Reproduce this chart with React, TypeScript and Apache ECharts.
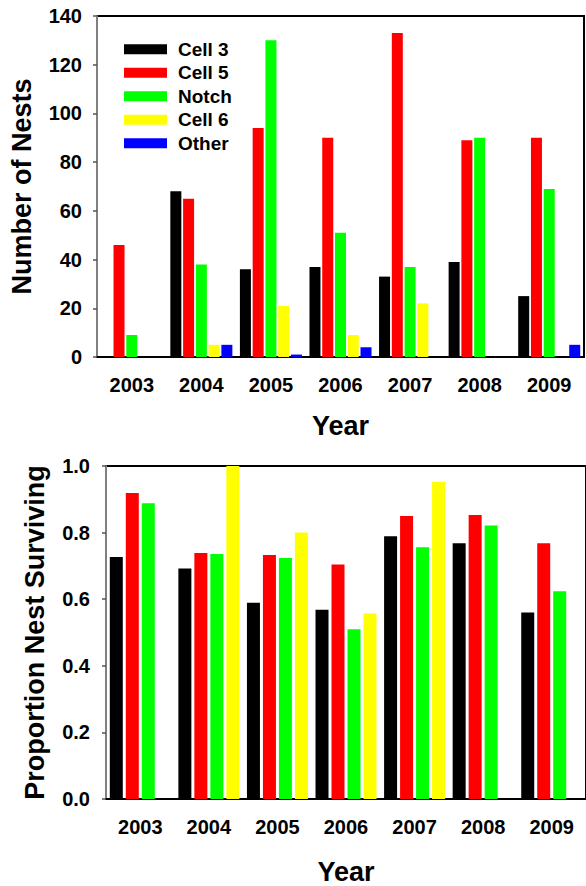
import React, { useEffect, useRef } from "react";
import * as echarts from "echarts";

const years = ["2003", "2004", "2005", "2006", "2007", "2008", "2009"];

// Top chart: number of nests
const nestsCell3 = [0, 68, 36, 37, 33, 39, 25];
const nestsCell5 = [46, 65, 94, 90, 133, 89, 90];
const nestsNotch = [9, 38, 130, 51, 37, 90, 69];
const nestsCell6 = [0, 5, 21, 9, 22, 0, 0];
const nestsOther = [0, 5, 1, 4, 0, 0, 5];

// Bottom chart: proportion nest surviving
const survCell3 = [0.727, 0.692, 0.589, 0.568, 0.789, 0.768, 0.56];
const survCell5 = [0.919, 0.739, 0.733, 0.704, 0.85, 0.853, 0.768];
const survNotch = [0.888, 0.736, 0.724, 0.51, 0.756, 0.821, 0.624];
const survCell6 = [null, 1.0, 0.8, 0.557, 0.953, null, null];

const seriesNames = ["Cell 3", "Cell 5", "Notch", "Cell 6", "Other"];
const seriesColors = ["#000000", "#ff0000", "#00ff00", "#ffff00", "#0000ff"];

const FONT = "'Liberation Sans', Arial, Helvetica, sans-serif";

export default function App() {
  const ref = useRef<HTMLDivElement>(null);
  useEffect(() => {
    if (!ref.current) return;
    const chart = echarts.init(ref.current, undefined, { renderer: "svg" });
    const tickLabel = { fontFamily: FONT, fontWeight: "bold", fontSize: 20, color: "#000" };
    const nameStyle = { fontFamily: FONT, fontWeight: "bold", fontSize: 27, color: "#000" };
    const xAxisBase = (gridIndex: number, nameGap: number) => ({
      type: "category",
      gridIndex,
      data: years,
      name: "Year",
      nameLocation: "middle",
      nameGap,
      nameTextStyle: nameStyle,
      axisLine: { lineStyle: { color: "#000", width: 2 } },
      axisTick: { alignWithLabel: true, length: 5, lineStyle: { color: "#000", width: 2 } },
      axisLabel: { ...tickLabel, margin: 18 },
      splitLine: { show: false },
    });
    const topData = [nestsCell3, nestsCell5, nestsNotch, nestsCell6, nestsOther];
    const botData = [survCell3, survCell5, survNotch, survCell6];
    const series: any[] = [];
    topData.forEach((d, i) => {
      series.push({
        type: "bar",
        name: seriesNames[i],
        xAxisIndex: 0,
        yAxisIndex: 0,
        data: d,
        barWidth: 11,
        barGap: "16%",
        itemStyle: { color: seriesColors[i] },
      });
    });
    botData.forEach((d, i) => {
      series.push({
        type: "bar",
        name: seriesNames[i] + " ",
        xAxisIndex: 1,
        yAxisIndex: 1,
        data: d,
        barWidth: 13,
        barGap: "23%",
        itemStyle: { color: seriesColors[i] },
      });
    });
    chart.setOption({
      animation: false,
      backgroundColor: "#fff",
      grid: [
        { left: 97, top: 16, width: 487, height: 341, show: true, borderColor: "#000", borderWidth: 2 },
        { left: 106, top: 466, width: 485, height: 341, show: true, borderColor: "#000", borderWidth: 2 },
      ],
      legend: {
        data: seriesNames,
        orient: "vertical",
        left: 119,
        top: 34,
        icon: "rect",
        itemWidth: 43,
        itemHeight: 10,
        itemGap: 3,
        textStyle: { fontFamily: FONT, fontWeight: "bold", fontSize: 19, color: "#000", lineHeight: 20.5, padding: [0, 0, 0, 6] },
        selectedMode: false,
      },
      xAxis: [xAxisBase(0, 55), xAxisBase(1, 59)],
      yAxis: [
        {
          type: "value",
          gridIndex: 0,
          min: 0,
          max: 140,
          interval: 20,
          name: "Number of Nests",
          nameLocation: "middle",
          nameGap: 62,
          nameTextStyle: nameStyle,
          axisLine: { show: true, lineStyle: { color: "#808080", width: 2 } },
          axisTick: { show: true, length: 4, lineStyle: { color: "#555", width: 1.5 } },
          axisLabel: { ...tickLabel, margin: 15 },
          splitLine: { show: false },
        },
        {
          type: "value",
          gridIndex: 1,
          min: 0,
          max: 1,
          interval: 0.2,
          name: "Proportion Nest Surviving",
          nameLocation: "middle",
          nameGap: 58,
          nameTextStyle: nameStyle,
          axisLine: { show: true, lineStyle: { color: "#808080", width: 2 } },
          axisTick: { show: true, length: 4, lineStyle: { color: "#555", width: 1.5 } },
          axisLabel: { ...tickLabel, margin: 16, formatter: (v: number) => v.toFixed(1) },
          splitLine: { show: false },
        },
      ],
      series,
    });
    return () => chart.dispose();
  }, []);
  return <div ref={ref} style={{ width: 586, height: 886, position: "absolute", left: 0, top: 0 }} />;
}
